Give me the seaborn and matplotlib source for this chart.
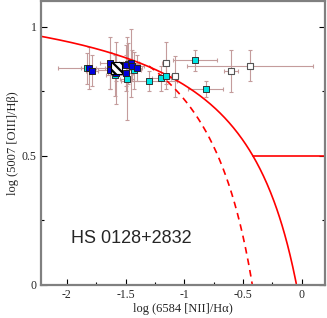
import numpy as np
import pandas as pd
import matplotlib
matplotlib.use("Agg")
import matplotlib.pyplot as plt
from matplotlib.patches import Rectangle
import seaborn as sns

# demarcation curves: y = a / (x - b) + c
KEWLEY = (0.61, 0.47, 1.19)
KAUFFMANN = (0.61, 0.05, 1.30)
SEYFERT_Y = 0.5

cyan_x = [-1.827, -1.588, -1.489, -1.426, -1.477, -1.301, -1.196, -1.153, -0.909, -0.818]
cyan_y = [0.840, 0.812, 0.799, 0.831, 0.857, 0.790, 0.800, 0.809, 0.870, 0.760]
cyan_xerr = [0.25, 0.08, 0.06, 0.06, 0.10, 0.24, 0.08, 0.05, 0.19, 0.15]
cyan_yerr = [0.06, 0.08, 0.16, 0.07, 0.08, 0.04, 0.05, 0.05, 0.04, 0.03]

blue_x = [-1.815, -1.787, -1.636, -1.636, -1.577, -1.497, -1.497, -1.455, -1.446, -1.406]
blue_y = [0.840, 0.830, 0.860, 0.831, 0.820, 0.851, 0.821, 0.860, 0.849, 0.839]
blue_xerr = [0.06, 0.05, 0.08, 0.10, 0.07, 0.08, 0.06, 0.07, 0.10, 0.05]
blue_yerr = [0.08, 0.06, 0.10, 0.07, 0.12, 0.08, 0.07, 0.13, 0.06, 0.05]

white_x = [-1.156, -1.082, -0.599, -0.4375]
white_y = [0.860, 0.808, 0.829, 0.849]
white_xerr = [0.03, 0.03, 0.06, 0.535]
white_yerr = [0.08, 0.08, 0.08, 0.06]

hatch_x = [-1.577]
hatch_y = [0.840]
hatch_xerr = [0.10]
hatch_yerr = [0.05]

LABEL = "HS 0128+2832"
ERR_COLOR = "#c49c9c"


def curve(coef, x0, x1):
    a, b, c = coef
    x = np.linspace(x0, x1, 300)
    return pd.DataFrame({"x": x, "y": a / (x - b) + c})


sns.set_style("ticks")
plt.rcParams["font.family"] = ["Liberation Serif", "DejaVu Serif"]
plt.rcParams["hatch.linewidth"] = 1.6
plt.rcParams["hatch.color"] = "black"

fig = plt.figure(figsize=(3.27, 3.18), dpi=100)
ax = fig.add_axes([0.1254, 0.1038, 0.8685, 0.893])

for xs, ys, xe, ye in [(cyan_x, cyan_y, cyan_xerr, cyan_yerr),
                       (blue_x, blue_y, blue_xerr, blue_yerr),
                       (white_x, white_y, white_xerr, white_yerr),
                       (hatch_x, hatch_y, hatch_xerr, hatch_yerr)]:
    ax.errorbar(xs, ys, xerr=xe, yerr=ye, fmt="none", ecolor=ERR_COLOR,
                elinewidth=0.8, capsize=1.2, capthick=0.8, zorder=1)

kew = curve(KEWLEY, -2.3, -0.045)
kew = kew[kew["y"] >= -0.01]
sns.lineplot(data=kew, x="x", y="y", ax=ax, color="red", lw=1.2, zorder=2)
kau = curve(KAUFFMANN, -1.3, -0.42)
kau = kau[kau["y"] >= -0.01]
sns.lineplot(data=kau, x="x", y="y", ax=ax, color="red", lw=1.2, zorder=2,
             linestyle=(0, (4, 3)))
x_sey = KEWLEY[1] + KEWLEY[0] / (SEYFERT_Y - KEWLEY[2])
ax.plot([x_sey, 0.25], [SEYFERT_Y, SEYFERT_Y], color="red", lw=1.2, zorder=2)

sns.scatterplot(x=cyan_x, y=cyan_y, ax=ax, marker="s", s=20, color="#00e5e5",
                edgecolor="#333333", linewidth=0.7, zorder=3)
sns.scatterplot(x=blue_x, y=blue_y, ax=ax, marker="s", s=20, color="#0000dd",
                edgecolor="#222222", linewidth=0.7, zorder=4)
sns.scatterplot(x=white_x, y=white_y, ax=ax, marker="s", s=20, color="white",
                edgecolor="#555555", linewidth=0.8, zorder=3)

# big hatched square, ~12 px wide, sized in data units
w, h = 0.10, 0.045
for hx, hy in zip(hatch_x, hatch_y):
    ax.add_patch(Rectangle((hx - w / 2, hy - h / 2), w, h, facecolor="white",
                           edgecolor="black", hatch="\\\\\\\\", linewidth=0.8,
                           zorder=5))

ax.set_xlim(-2.22, 0.2)
ax.set_ylim(0, 1.1)
ax.set_xticks([-2, -1.5, -1, -0.5, 0])
ax.set_xticklabels(["-2", "-1.5", "-1", "-0.5", "0"])
ax.set_xticks(np.arange(-2.0, 0.2, 0.25), minor=True)
ax.set_yticks([0, 0.5, 1])
ax.set_yticklabels(["0", "0.5", "1"])
ax.set_yticks([0.25, 0.75], minor=True)
ax.tick_params(which="both", direction="in", right=True, top=False,
               labelsize=8.5, color="black", pad=3)
ax.tick_params(which="major", length=4, width=0.8)
ax.tick_params(which="minor", length=2.5, width=0.8)
for sp in ax.spines.values():
    sp.set_visible(True)
    sp.set_color("#808080")
    sp.set_linewidth(1.6)

ax.set_xlabel("log (6584 [NII]/H\u03b1)", fontsize=9, labelpad=1)
ax.set_ylabel("log (5007 [OIII]/H\u03b2)", fontsize=9, labelpad=2)
ax.text(-1.967, 0.162, LABEL, fontsize=13, family=["Liberation Sans", "DejaVu Sans"])

fig.savefig("out.png", dpi=100)
